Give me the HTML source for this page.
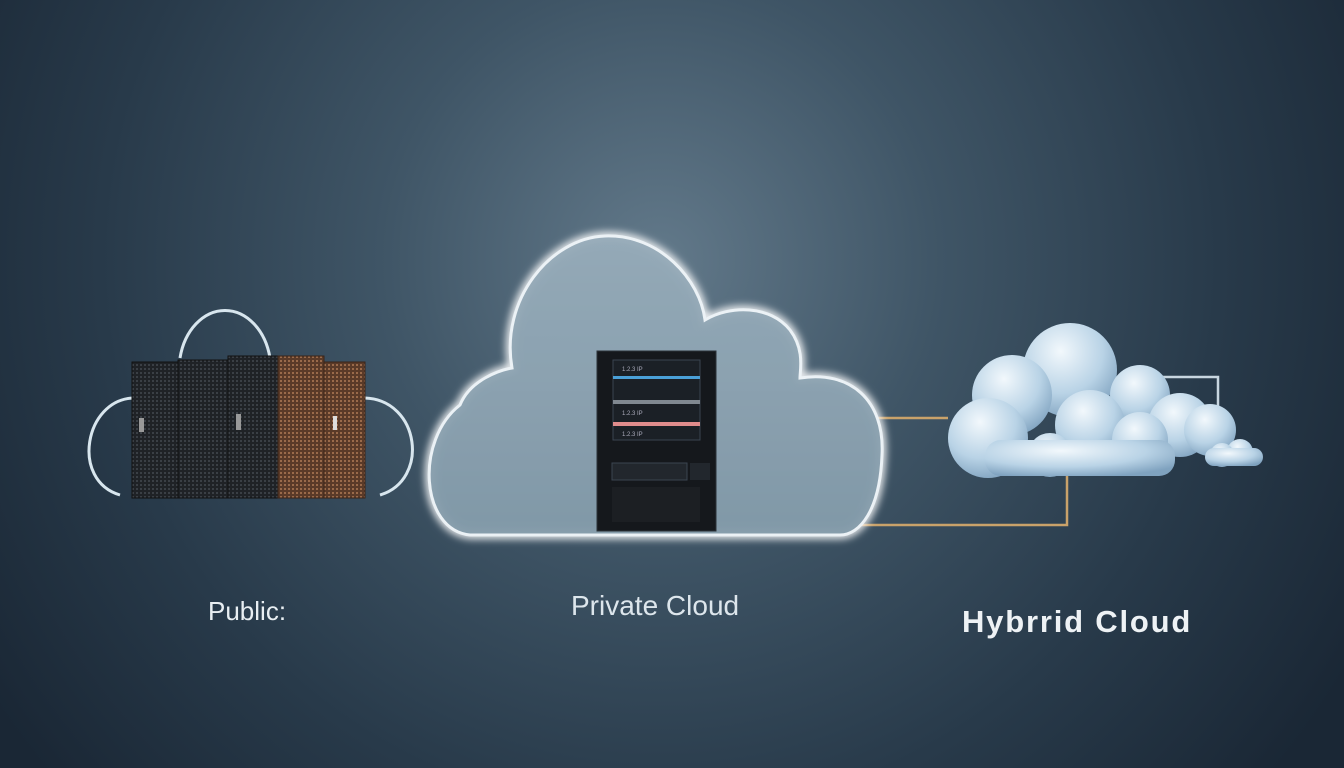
<!DOCTYPE html>
<html><head><meta charset="utf-8"><style>
html,body{margin:0;padding:0;width:1344px;height:768px;overflow:hidden;background:#1e2c3a}
svg{display:block}
text{font-family:"Liberation Sans",sans-serif}
</style></head><body>
<svg width="1344" height="768" viewBox="0 0 1344 768">
<defs>
<radialGradient id="bg" cx="660" cy="260" r="800" gradientUnits="userSpaceOnUse">
<stop offset="0" stop-color="#62798a"/><stop offset="0.35" stop-color="#3f5566"/><stop offset="0.7" stop-color="#283a4a"/><stop offset="1" stop-color="#1a2735"/>
</radialGradient>
<radialGradient id="cl" cx="0.4" cy="0.3" r="0.75">
<stop offset="0" stop-color="#f2f8fc"/><stop offset="0.6" stop-color="#b9d3e6"/><stop offset="1" stop-color="#7fa2bf"/>
</radialGradient>
<linearGradient id="cu" x1="0" y1="0" x2="0" y2="1"><stop offset="0" stop-color="#95aab8"/><stop offset="1" stop-color="#8199a8"/></linearGradient>
<filter id="glow"><feGaussianBlur stdDeviation="4"/></filter>
<pattern id="mesh" width="4" height="4" patternUnits="userSpaceOnUse"><rect width="4" height="4" fill="#1f2226"/><rect width="2" height="2" fill="#3a3f45"/></pattern>
<pattern id="mesh2" width="4" height="4" patternUnits="userSpaceOnUse"><rect width="4" height="4" fill="#5a3a28"/><rect width="2" height="2" fill="#9a6a4a"/></pattern>
</defs>
<rect width="1344" height="768" fill="url(#bg)"/>

<polyline points="875,418 948,418" fill="none" stroke="#c9a26a" stroke-width="2.5"/>
<polyline points="845,525 1067,525 1067,470" fill="none" stroke="#c9a26a" stroke-width="2.5"/>
<polyline points="1160,377 1218,377 1218,412" fill="none" stroke="#c8d6e0" stroke-width="2.5"/>

<path id="pc" d="M470,535 C420,530 415,440 460,405 C470,380 500,370 512,368 C500,300 550,238 605,236 C660,234 700,280 705,320 C730,305 770,305 790,330 C805,350 800,370 800,378 C850,370 885,400 882,455 C880,510 860,535 840,535 Z" fill="url(#cu)" opacity="0.92"/>
<use href="#pc" fill="none" stroke="#ffffff" stroke-width="8" filter="url(#glow)"/>
<use href="#pc" fill="none" stroke="#eef4f8" stroke-width="3"/>

<rect x="597" y="351" width="119" height="180" fill="#15181c" stroke="#2c3238"/>
<rect x="613" y="360" width="87" height="80" fill="#1b2026" stroke="#3a4450"/>
<rect x="613" y="376" width="87" height="3" fill="#4aa0d8"/>
<rect x="613" y="400" width="87" height="4" fill="#808890"/>
<rect x="613" y="422" width="87" height="4" fill="#e08c8c"/>
<text x="622" y="371" font-size="6" fill="#aab">1.2.3 IP</text>
<text x="622" y="415" font-size="6" fill="#aab">1.2.3 IP</text>
<text x="622" y="436" font-size="6" fill="#aab">1.2.3 IP</text>
<rect x="612" y="463" width="75" height="17" fill="#22272d" stroke="#3a4450"/>
<rect x="690" y="463" width="20" height="17" fill="#22272d"/>
<rect x="612" y="487" width="88" height="35" fill="#1c1f23"/>

<path d="M180,358 A46,60 0 0 1 270,358" fill="none" stroke="#d8e6ee" stroke-width="3"/>
<path d="M133,398 C85,400 70,480 120,495" fill="none" stroke="#d8e6ee" stroke-width="3"/>
<path d="M365,398 C420,400 430,480 380,495" fill="none" stroke="#d8e6ee" stroke-width="3"/>
<rect x="132" y="362" width="46" height="136" fill="url(#mesh)" stroke="#111"/>
<rect x="178" y="360" width="50" height="138" fill="url(#mesh)" stroke="#111"/>
<rect x="228" y="356" width="50" height="142" fill="url(#mesh)" stroke="#111"/>
<rect x="278" y="356" width="46" height="142" fill="url(#mesh2)" stroke="#3a2418"/>
<rect x="324" y="362" width="41" height="136" fill="url(#mesh2)" stroke="#3a2418"/>
<rect x="139" y="418" width="5" height="14" fill="#999"/>
<rect x="236" y="414" width="5" height="16" fill="#999"/>
<rect x="333" y="416" width="4" height="14" fill="#ddd"/>

<g fill="url(#cl)">
<circle cx="1070" cy="370" r="47"/>
<circle cx="1012" cy="395" r="40"/>
<circle cx="988" cy="438" r="40"/>
<circle cx="1140" cy="395" r="30"/>
<circle cx="1180" cy="425" r="32"/>
<circle cx="1210" cy="430" r="26"/>
<circle cx="1090" cy="425" r="35"/>
<circle cx="1140" cy="440" r="28"/>
<circle cx="1050" cy="455" r="22"/>
<circle cx="1000" cy="462" r="12"/>
<rect x="985" y="440" width="190" height="36" rx="16"/>
<circle cx="1240" cy="452" r="13"/>
<circle cx="1222" cy="455" r="12"/>
<rect x="1205" y="448" width="58" height="18" rx="9"/>
</g>

<text x="208" y="620" font-size="26" fill="#e8eef2">Public:</text>
<text x="571" y="615" font-size="28" fill="#dde6ec">Private Cloud</text>
<text x="962" y="632" font-size="31" fill="#eef2f5" font-weight="bold" letter-spacing="1.8">Hybrrid Cloud</text>
</svg>
</body></html>
